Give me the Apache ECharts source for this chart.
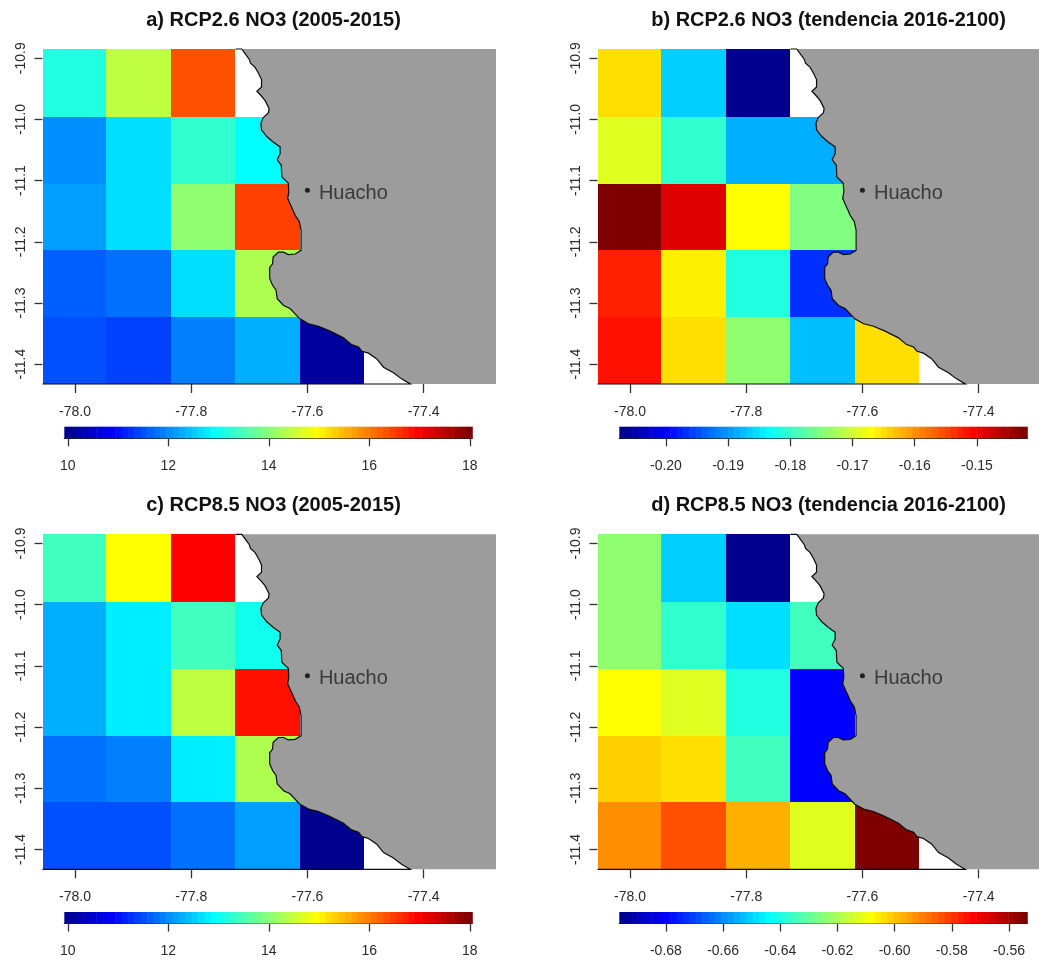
<!DOCTYPE html>
<html><head><meta charset="utf-8">
<style>html,body{margin:0;padding:0;background:#fff}#c{width:1039px;height:962px}</style>
<script src="https://cdn.jsdelivr.net/npm/echarts@6/dist/echarts.min.js"></script>
</head><body><div id="c"></div>
<script>
// Titles
const titles = ['a) RCP2.6 NO3 (2005-2015)','b) RCP2.6 NO3 (tendencia 2016-2100)','c) RCP8.5 NO3 (2005-2015)','d) RCP8.5 NO3 (tendencia 2016-2100)'];
// Cell boundaries (degrees)
const lonEdges = [-78.056,-77.947,-77.834,-77.724,-77.612,-77.503];
const latEdges = [-10.885,-10.996,-11.105,-11.214,-11.323,-11.4324];
// Axis ticks
const lonTicks = [-78.0,-77.8,-77.6,-77.4];
const latTicks = [-10.9,-11.0,-11.1,-11.2,-11.3,-11.4];
const lonRangeLeft = [-78.056,-77.2754];
const lonRangeRight = [-78.056,-77.2961]; // the right-hand maps run off the page edge
const latRange = [-11.4324,-10.885];
// Cell values, north to south, west to east
const valuesA = [[13.20,14.50,16.39,null,null],[12.03,12.73,13.36,12.97,null],[12.19,12.73,14.13,16.52,null],[11.72,11.84,12.73,14.32,null],[11.55,11.47,11.90,12.35,10.18]];
const valuesB = [[-0.1640,-0.1862,-0.2063,null,null],[-0.1685,-0.1798,-0.1885,-0.1885,null],[-0.1419,-0.1481,-0.1665,-0.1747,null],[-0.1526,-0.1655,-0.1806,-0.1963,null],[-0.1511,-0.1640,-0.1736,-0.1868,-0.1640]];
const valuesC = [[13.48,15.00,17.03,null,null],[12.28,12.85,13.48,13.10,null],[12.28,12.85,14.50,16.90,null],[11.84,11.96,12.85,14.32,null],[11.59,11.59,11.78,12.20,10.08]];
const valuesD = [[-0.6225,-0.6499,-0.6937,null,null],[-0.6225,-0.6361,-0.6471,-0.6335,null],[-0.6071,-0.6114,-0.6378,-0.6785,null],[-0.6000,-0.6028,-0.6335,-0.6785,null],[-0.5907,-0.5827,-0.5950,-0.6114,-0.5536]];
// Colour bar ranges and ticks
const rangeAC = [9.93,18.05];
const rangeB = [-0.2075,-0.1419];
const rangeD = [-0.6963,-0.5536];
const ticksAC = [10,12,14,16,18];
const ticksB = [-0.20,-0.19,-0.18,-0.17,-0.16,-0.15];
const ticksD = [-0.68,-0.66,-0.64,-0.62,-0.60,-0.58,-0.56];
// Coast line (lon, lat), north to south
const coastLon = [-77.713,-77.707,-77.700,-77.698,-77.690,-77.684,-77.679,-77.679,-77.687,-77.680,-77.673,-77.666,-77.667,-77.676,-77.680,-77.679,-77.670,-77.659,-77.647,-77.647,-77.652,-77.645,-77.644,-77.633,-77.632,-77.634,-77.629,-77.625,-77.621,-77.614,-77.611,-77.611,-77.621,-77.633,-77.641,-77.650,-77.659,-77.660,-77.665,-77.665,-77.660,-77.654,-77.652,-77.641,-77.630,-77.613,-77.598,-77.581,-77.561,-77.538,-77.524,-77.512,-77.506,-77.495,-77.481,-77.469,-77.452,-77.438,-77.423];
const coastLat = [-10.885,-10.893,-10.902,-10.908,-10.915,-10.925,-10.935,-10.947,-10.954,-10.961,-10.969,-10.982,-10.989,-10.997,-11.006,-11.017,-11.028,-11.037,-11.045,-11.056,-11.066,-11.075,-11.094,-11.104,-11.119,-11.129,-11.140,-11.148,-11.157,-11.167,-11.181,-11.214,-11.220,-11.221,-11.217,-11.217,-11.225,-11.236,-11.242,-11.260,-11.271,-11.279,-11.293,-11.304,-11.309,-11.326,-11.334,-11.338,-11.346,-11.357,-11.368,-11.372,-11.379,-11.382,-11.391,-11.405,-11.414,-11.424,-11.4324];
const townName = 'Huacho';
const townLon = -77.6;
const townLat = -11.116;

const stops = [[0,0,0,127],[.125,0,0,255],[.375,0,255,255],[.625,255,255,0],[.875,255,0,0],[1,127,0,0]];
function jet(t){
  for(let k=1;k<stops.length;k++){
    if(t<=stops[k][0]){
      const a=stops[k-1],b=stops[k],f=(t-a[0])/(b[0]-a[0]);
      return 'rgb('+[1,2,3].map(j=>Math.round(a[j]+(b[j]-a[j])*f)).join(',')+')';
    }
  }
  return 'rgb(127,0,0)';
}
function level(v,r){
  let i=Math.round((v-r[0])/(r[1]-r[0])*64);
  return Math.min(64,Math.max(1,i));
}
const FONT='"Liberation Sans",Arial,sans-serif';
const TXT='#2a2a2a';
const panels=[
 {vals:valuesA,range:rangeAC,ticks:ticksAC,dec:0,dx:0,dy:0,lon:lonRangeLeft,w:453.5},
 {vals:valuesB,range:rangeB,ticks:ticksB,dec:2,dx:555,dy:0,lon:lonRangeRight,w:441.5},
 {vals:valuesC,range:rangeAC,ticks:ticksAC,dec:0,dx:0,dy:485.3,lon:lonRangeLeft,w:453.5},
 {vals:valuesD,range:rangeD,ticks:ticksD,dec:2,dx:555,dy:485.3,lon:lonRangeRight,w:441.5}
];
const grid=[],xAxis=[],yAxis=[],series=[],title=[];
panels.forEach((p,n)=>{
  title.push({text:titles[n],left:268.5+p.dx,top:5.5+p.dy,textAlign:'center',
    textStyle:{fontFamily:FONT,fontSize:20,fontWeight:'bold',color:'#111'}});
  const gi=grid.length;
  grid.push({left:42.5+p.dx,top:49+p.dy,width:p.w,height:335});
  xAxis.push({type:'value',gridIndex:gi,min:p.lon[0],max:p.lon[1],splitLine:{show:false},axisLine:{show:false},
    axisTick:{show:true,length:9,customValues:lonTicks,lineStyle:{color:'#333',width:1.3}},
    axisLabel:{customValues:lonTicks,margin:21,fontFamily:FONT,fontSize:14,color:TXT,formatter:v=>v.toFixed(1)}});
  yAxis.push({type:'value',gridIndex:gi,min:latRange[0],max:latRange[1],splitLine:{show:false},axisLine:{show:false},
    axisTick:{show:true,length:8,customValues:latTicks,lineStyle:{color:'#333',width:1.3}},
    axisLabel:{customValues:latTicks,rotate:90,margin:14,fontFamily:FONT,fontSize:14,color:TXT,formatter:v=>v.toFixed(1)}});
  const cells=[];
  p.vals.forEach((row,r)=>row.forEach((v,c)=>{ if(v!==null) cells.push([c,r,v]); }));
  series.push({type:'custom',xAxisIndex:gi,yAxisIndex:gi,coordinateSystem:'cartesian2d',silent:true,clip:false,
    encode:{x:0,y:1},data:cells,z:2,
    renderItem:(params,api)=>{
      const c=api.value(0),r=api.value(1),v=api.value(2);
      const a=api.coord([lonEdges[c],latEdges[r]]).map(Math.round),b=api.coord([lonEdges[c+1],latEdges[r+1]]).map(Math.round);
      return {type:'rect',shape:{x:a[0],y:a[1],width:b[0]-a[0],height:b[1]-a[1]},
        style:{fill:jet(level(v,p.range)/64)}};
    }});
  series.push({type:'custom',xAxisIndex:gi,yAxisIndex:gi,coordinateSystem:'cartesian2d',silent:true,clip:false,
    data:[[p.lon[1],latRange[1]]],encode:{x:0,y:1},z:3,
    renderItem:(params,api)=>{
      const coast=coastLon.map((x,i)=>api.coord([x,coastLat[i]]));
      const land=coast.concat([api.coord([p.lon[1],latRange[0]]),api.coord([p.lon[1],latRange[1]])]);
      const outline=[api.coord([lonEdges[3],latRange[1]])].concat(coast,[api.coord([p.lon[0],latRange[0]])]);
      return {type:'group',children:[
        {type:'polygon',shape:{points:land},style:{fill:'#9c9c9c'}},
        {type:'polyline',shape:{points:outline},style:{stroke:'#0a0a0a',lineWidth:1.2,fill:null}}
      ]};
    }});
  series.push({type:'scatter',xAxisIndex:gi,yAxisIndex:gi,silent:true,z:4,data:[[townLon,townLat]],symbolSize:5,
    itemStyle:{color:'#000'},
    label:{show:true,formatter:townName,position:'right',distance:9,offset:[0,3],fontFamily:FONT,fontSize:20,color:'#222'}});
  // colour bar
  const bi=grid.length;
  grid.push({left:64.3+p.dx,top:426.7+p.dy,width:408,height:11.6});
  xAxis.push({type:'value',gridIndex:bi,min:p.range[0],max:p.range[1],splitLine:{show:false},
    axisLine:{show:true,lineStyle:{color:'#222',width:1.2}},
    axisTick:{show:true,length:8,customValues:p.ticks,lineStyle:{color:'#333',width:1.3}},
    axisLabel:{customValues:p.ticks,margin:21,fontFamily:FONT,fontSize:14,color:TXT,formatter:v=>v.toFixed(p.dec)}});
  yAxis.push({type:'value',gridIndex:bi,min:0,max:1,show:false});
  const span=(p.range[1]-p.range[0])/64;
  const bar=[];
  for(let i=0;i<64;i++) bar.push([p.range[0]+i*span,p.range[0]+(i+1)*span,(i+1)/64]);
  series.push({type:'custom',xAxisIndex:bi,yAxisIndex:bi,coordinateSystem:'cartesian2d',silent:true,clip:false,
    encode:{x:[0,1]},data:bar,z:2,
    renderItem:(params,api)=>{
      const a=api.coord([api.value(0),1]),b=api.coord([api.value(1),0]);
      return {type:'rect',shape:{x:a[0],y:a[1],width:b[0]-a[0]+.5,height:b[1]-a[1]},style:{fill:jet(api.value(2))}};
    }});
});
const chart=echarts.init(document.getElementById('c'),null,{renderer:'canvas'});
chart.setOption({animation:false,backgroundColor:'#fff',title,grid,xAxis,yAxis,series});
</script></body></html>
